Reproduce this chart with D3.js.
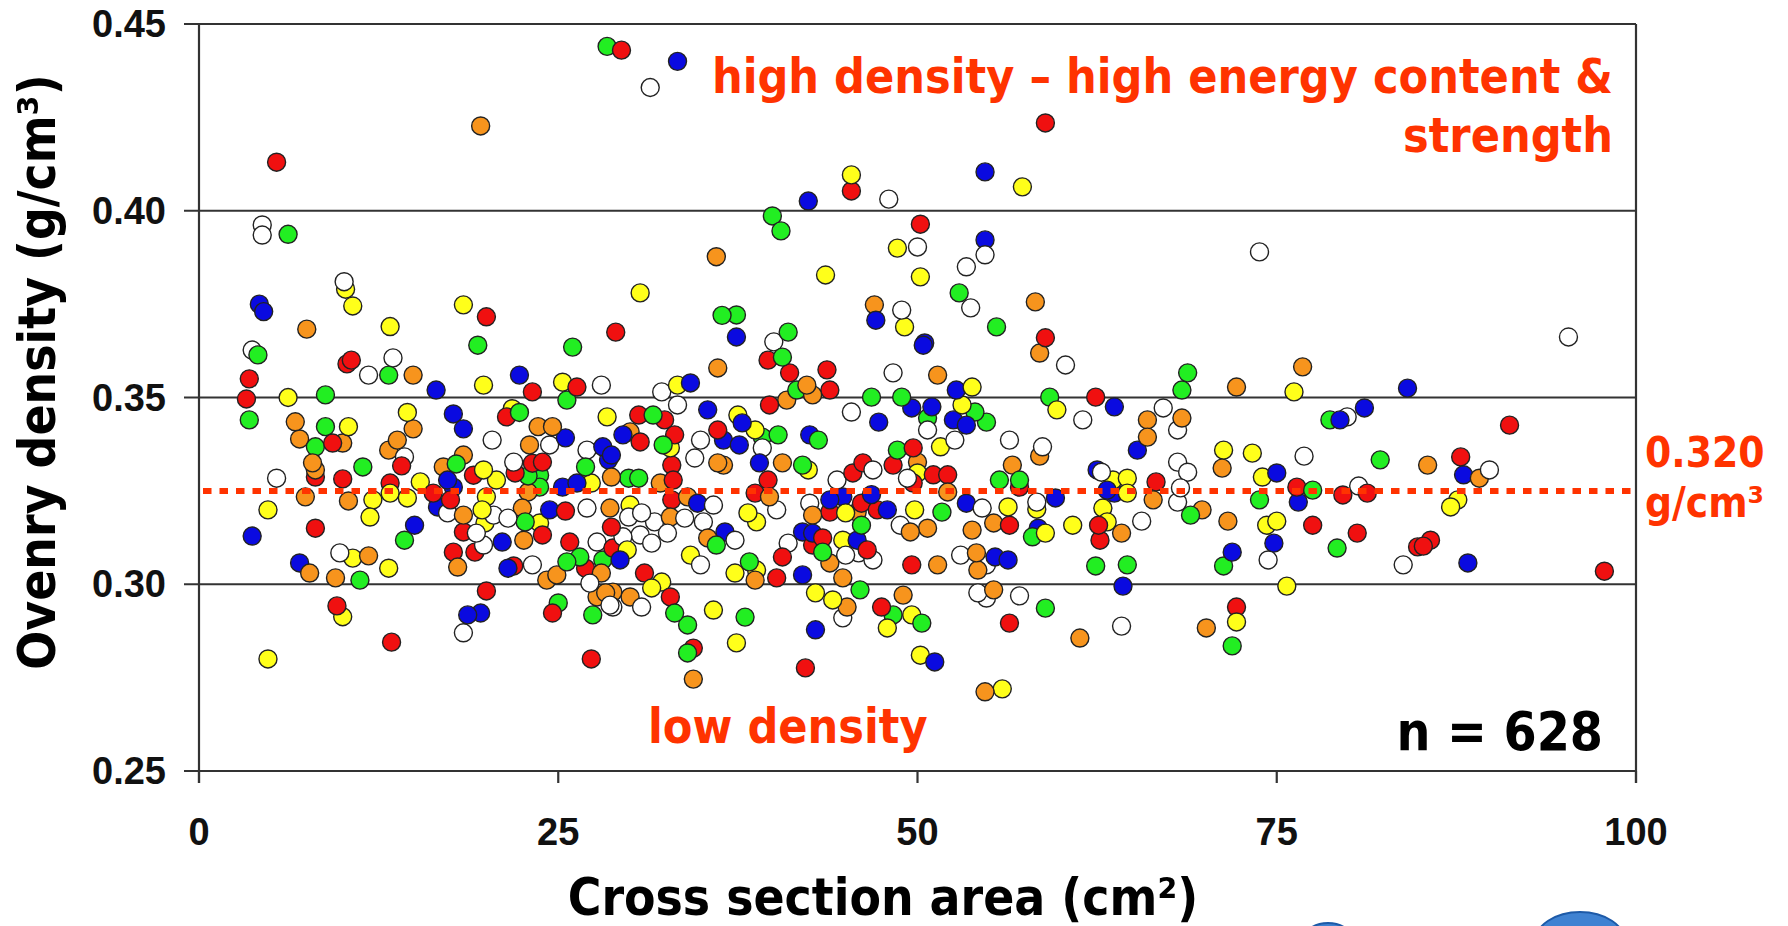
<!DOCTYPE html>
<html>
<head>
<meta charset="utf-8">
<style>
    body {
        margin: 0;
        background: #fff;
    }

    svg {
        display: block;
    }

    .tick-label {
        font-family: 'Liberation Sans', Arial, sans-serif;
        font-weight: bold;
        font-size: 38px;
        fill: #111;
    }

    .bold-text {
        font-family: 'DejaVu Sans Condensed', 'DejaVu Sans', sans-serif;
        font-weight: bold;
        font-stretch: condensed;
    }
</style>
</head>
<body>
<svg width="1788" height="926"></svg>

<script src="https://d3js.org/d3.v7.min.js"></script>
<script>
    // points: [cross section area cm2, ovendry density g/cm3]
    let redPts = [
        [29.4, 0.443], [5.4, 0.413], [58.9, 0.4235], [45.4, 0.4053], [50.2, 0.3964], [20.0, 0.3716], [29.0, 0.3675],
        [10.6, 0.360], [10.3, 0.359], [23.2, 0.3515], [26.3, 0.3528], [3.5, 0.355], [3.3, 0.3496], [21.4, 0.3448],
        [9.3, 0.3378], [14.1, 0.3317], [8.1, 0.3287], [10.0, 0.3282], [13.3, 0.3271], [19.1, 0.3292], [22.0, 0.3298],
        [23.9, 0.3327], [23.2, 0.3324], [16.3, 0.3244], [17.5, 0.3226], [25.5, 0.3196], [28.7, 0.3153], [8.1, 0.315],
        [18.4, 0.314], [23.9, 0.3132], [25.8, 0.3113], [17.7, 0.3086], [19.2, 0.3086], [26.9, 0.3043], [21.9, 0.3049],
        [20.0, 0.2982], [9.6, 0.2942], [13.4, 0.2845], [24.6, 0.2923], [27.3, 0.280],
        [39.6, 0.360], [41.1, 0.3566], [43.7, 0.3574], [43.9, 0.352], [39.7, 0.348], [30.6, 0.3453], [32.4, 0.344],
        [33.1, 0.340], [30.7, 0.3381], [36.1, 0.3413], [32.9, 0.3319], [39.6, 0.3279], [33.0, 0.3279], [32.9, 0.3226],
        [38.7, 0.3244], [28.8, 0.3097], [43.9, 0.3193], [46.1, 0.3217], [47.2, 0.3199], [42.7, 0.3105], [43.4, 0.3124],
        [40.6, 0.3073], [46.5, 0.3092], [40.2, 0.3017], [56.4, 0.3158], [49.7, 0.3271], [51.1, 0.3293], [52.1, 0.3293],
        [48.3, 0.3319], [46.2, 0.3325], [45.5, 0.3298], [49.7, 0.3365], [49.6, 0.3052], [47.5, 0.2939], [56.4, 0.2896],
        [42.2, 0.2776], [31.0, 0.303], [32.8, 0.2966], [34.4, 0.2829],
        [58.9, 0.366], [62.4, 0.3501], [57.1, 0.326], [66.6, 0.3274], [62.6, 0.3158], [62.7, 0.3118], [77.5, 0.3158],
        [80.6, 0.3137], [72.2, 0.2939], [84.8, 0.310], [76.4, 0.326], [79.6, 0.3239], [81.3, 0.3244],
        [91.2, 0.3426], [87.8, 0.3341], [85.2, 0.3102], [85.7, 0.3118], [97.8, 0.3035]
    ]

    let orangePts = [
        [19.6, 0.4227], [7.5, 0.3683], [36.0, 0.3877], [47.0, 0.3748],
        [14.9, 0.356], [6.7, 0.3435], [7.0, 0.3389], [10.0, 0.3378], [14.9, 0.3416], [13.8, 0.3386], [13.2, 0.3359],
        [23.6, 0.3422], [24.6, 0.3422], [23.0, 0.3373], [7.9, 0.3325], [8.1, 0.3306], [7.4, 0.3234], [10.4, 0.3223],
        [17.0, 0.3314], [18.4, 0.3346], [28.7, 0.3287], [22.9, 0.3247], [18.4, 0.3185], [22.5, 0.3204], [28.6, 0.3204],
        [22.6, 0.3118], [18.0, 0.3046], [24.2, 0.3011], [24.9, 0.3025], [28.0, 0.303], [7.7, 0.303], [11.8, 0.3076],
        [9.5, 0.3017], [27.7, 0.2966], [28.3, 0.2977],
        [36.1, 0.3579], [42.3, 0.3533], [42.7, 0.3507], [40.9, 0.3493], [51.4, 0.356], [30.0, 0.3408], [36.1, 0.3325],
        [36.5, 0.3319], [40.6, 0.3325], [32.1, 0.3271], [39.7, 0.3234], [34.0, 0.3234], [32.8, 0.318], [35.4, 0.3124],
        [45.8, 0.3193], [42.7, 0.3185], [43.9, 0.3057], [44.8, 0.3017], [38.7, 0.3011], [55.3, 0.3164], [53.8, 0.3145],
        [50.7, 0.315], [49.5, 0.314], [50.0, 0.3327], [52.1, 0.3247], [51.4, 0.3052], [54.1, 0.3084], [54.2, 0.3038],
        [45.1, 0.2939], [49.0, 0.2971], [55.3, 0.2985], [30.0, 0.2966], [28.8, 0.2979],
        [58.2, 0.3756], [58.5, 0.3619], [72.2, 0.3528], [76.8, 0.3582], [66.0, 0.344], [66.0, 0.3394], [68.4, 0.3445],
        [58.5, 0.3343], [71.2, 0.3311], [56.6, 0.3319], [66.4, 0.3226], [64.2, 0.3137], [69.8, 0.3199], [71.6, 0.3169],
        [61.3, 0.2856], [70.1, 0.2883], [85.5, 0.3319], [89.1, 0.3284], [34.4, 0.2746], [54.7, 0.2712]
    ]

    let yellowPts = [
        [10.2, 0.379], [10.7, 0.3745], [18.4, 0.3748], [13.3, 0.369], [30.7, 0.378],
        [45.4, 0.4096], [57.3, 0.4064], [48.6, 0.390], [43.6, 0.3828], [50.2, 0.3823], [49.1, 0.3689],
        [19.8, 0.3533], [25.3, 0.3541], [6.2, 0.350], [14.5, 0.346], [21.8, 0.347], [28.4, 0.3448], [10.4, 0.3422],
        [12.1, 0.3226], [11.9, 0.318], [13.3, 0.3244], [14.5, 0.3231], [15.4, 0.3274], [19.8, 0.3306], [20.7, 0.3279],
        [27.3, 0.3271], [20.0, 0.3234], [19.7, 0.3199], [19.9, 0.3164], [23.7, 0.3164], [4.8, 0.3199], [10.7, 0.307],
        [13.2, 0.3043], [10.0, 0.2913], [4.8, 0.280],
        [33.3, 0.3533], [53.8, 0.3528], [53.1, 0.348], [32.8, 0.3365], [37.5, 0.3453], [38.7, 0.3413], [42.4, 0.3306],
        [38.2, 0.3191], [38.8, 0.3167], [30.0, 0.3212], [29.8, 0.3092], [34.2, 0.3078], [45.0, 0.3191], [44.8, 0.3118],
        [37.3, 0.303], [38.8, 0.3038], [49.8, 0.3199], [50.0, 0.3298], [51.6, 0.3368], [42.9, 0.2977], [44.1, 0.2958],
        [47.9, 0.2883], [49.6, 0.2918], [50.2, 0.281], [32.2, 0.3006], [31.5, 0.299], [35.8, 0.2931], [37.4, 0.2843],
        [76.2, 0.3515], [59.7, 0.3467], [71.3, 0.3359], [73.3, 0.3351], [63.6, 0.3279], [64.6, 0.3284], [64.6, 0.3244],
        [58.3, 0.3201], [56.3, 0.3207], [58.9, 0.3137], [60.8, 0.3158], [62.9, 0.3204], [63.2, 0.3167], [74.3, 0.3158],
        [75.0, 0.3169], [75.7, 0.2995], [72.2, 0.2899], [74.0, 0.3287], [87.6, 0.3226], [87.1, 0.3207], [55.9, 0.272]
    ]

    let greenPts = [
        [28.4, 0.444], [6.2, 0.3937], [39.9, 0.3986], [40.5, 0.3946], [52.9, 0.378], [36.4, 0.372], [37.4, 0.3721],
        [55.5, 0.3689], [41.0, 0.3675],
        [4.1, 0.3614], [13.2, 0.356], [19.4, 0.364], [26.0, 0.3635], [25.6, 0.3493], [3.5, 0.344], [8.8, 0.3507],
        [22.3, 0.346], [8.8, 0.3422], [8.1, 0.3368], [11.4, 0.3314], [17.9, 0.3322], [22.9, 0.329], [23.7, 0.3292],
        [26.9, 0.3314], [23.7, 0.326], [22.7, 0.3167], [14.3, 0.3118], [25.6, 0.306], [26.5, 0.3073], [28.1, 0.3065],
        [11.2, 0.3011], [25.0, 0.295], [27.4, 0.2918],
        [40.6, 0.3608], [41.6, 0.352], [46.8, 0.3501], [48.9, 0.3501], [54.0, 0.3461], [54.8, 0.3434], [50.7, 0.3445],
        [43.1, 0.3386], [31.6, 0.3453], [32.3, 0.3373], [39.2, 0.3394], [40.3, 0.340], [42.0, 0.3319], [29.9, 0.3284],
        [30.6, 0.3284], [36.0, 0.3105], [46.1, 0.3158], [43.4, 0.3086], [38.3, 0.306], [51.7, 0.3193], [48.6, 0.3359],
        [55.7, 0.3279], [46.0, 0.2985], [48.3, 0.2918], [50.3, 0.2896], [33.1, 0.2923], [34.0, 0.2891], [38.0, 0.2912],
        [34.0, 0.2816],
        [68.8, 0.3566], [68.4, 0.352], [59.2, 0.3501], [78.7, 0.344], [82.2, 0.3333], [57.1, 0.3279], [58.0, 0.3127],
        [69.0, 0.3185], [79.2, 0.3097], [71.3, 0.3049], [62.4, 0.3049], [64.6, 0.3052], [58.9, 0.2936], [71.9, 0.2835],
        [77.5, 0.3252], [73.8, 0.3226]
    ]

    let bluePts = [
        [33.3, 0.440], [4.2, 0.375], [4.5, 0.373],
        [42.4, 0.4026], [54.7, 0.4104], [54.7, 0.3922], [47.1, 0.3707], [50.5, 0.3646], [37.4, 0.3662],
        [16.5, 0.352], [22.3, 0.356], [17.7, 0.3456], [18.4, 0.3416], [25.5, 0.3392], [28.1, 0.3368], [28.7, 0.3346],
        [28.5, 0.3333], [26.3, 0.3271], [25.3, 0.326], [17.3, 0.3279], [17.7, 0.326], [16.6, 0.3207], [24.4, 0.3199],
        [15.0, 0.3158], [3.7, 0.3129], [21.1, 0.3113], [21.5, 0.3043], [7.0, 0.3057], [18.7, 0.2918], [19.6, 0.2923],
        [50.4, 0.364], [49.6, 0.3472], [51.0, 0.3475], [52.7, 0.352], [52.5, 0.344], [53.4, 0.3426], [47.3, 0.3434],
        [42.5, 0.340], [34.2, 0.3539], [35.4, 0.3467], [29.5, 0.340], [37.8, 0.3432], [36.5, 0.3386], [37.6, 0.3373],
        [39.0, 0.3325], [34.7, 0.3217], [29.3, 0.3065], [36.6, 0.314], [43.9, 0.3226], [44.8, 0.3234], [46.8, 0.324],
        [47.9, 0.3199], [42.0, 0.314], [42.7, 0.3137], [45.8, 0.3118], [42.0, 0.3025], [53.4, 0.3217], [55.4, 0.3073],
        [56.3, 0.3065], [42.9, 0.2878], [51.2, 0.2792],
        [84.1, 0.3525], [63.7, 0.3475], [79.4, 0.344], [81.1, 0.3472], [65.3, 0.3359], [62.5, 0.3306], [63.2, 0.3252],
        [63.7, 0.3244], [59.6, 0.3231], [58.4, 0.315], [74.8, 0.311], [71.9, 0.3086], [64.3, 0.2995], [76.5, 0.322],
        [75.0, 0.3298], [88.0, 0.3293], [88.3, 0.3057]
    ]

    let whitePts = [
        [31.4, 0.433], [4.4, 0.3962], [4.4, 0.3935], [10.1, 0.381],
        [48.0, 0.4031], [50.0, 0.3903], [54.7, 0.3882], [53.4, 0.385], [53.7, 0.374], [48.9, 0.3734], [40.0, 0.3649],
        [3.7, 0.3627], [13.5, 0.3606], [11.8, 0.356], [28.0, 0.3533], [14.3, 0.3341], [20.4, 0.3386], [24.4, 0.3373],
        [27.0, 0.3359], [5.4, 0.3284], [21.9, 0.3327], [17.3, 0.3191], [20.5, 0.3185], [21.5, 0.3177], [27.0, 0.3204],
        [19.3, 0.3137], [19.8, 0.3105], [27.7, 0.3113], [23.2, 0.3052], [27.2, 0.3003], [9.8, 0.3084], [18.4, 0.287],
        [28.6, 0.2944],
        [48.3, 0.3566], [45.4, 0.3461], [50.7, 0.3413], [52.6, 0.3386], [32.2, 0.3515], [33.3, 0.348], [34.9, 0.3386],
        [34.5, 0.3338], [39.2, 0.3365], [40.2, 0.3199], [35.8, 0.3212], [33.8, 0.3177], [35.1, 0.3167], [31.7, 0.3167],
        [30.8, 0.3191], [29.9, 0.318], [29.5, 0.3127], [30.7, 0.3132], [31.5, 0.311], [32.6, 0.3137], [37.3, 0.3118],
        [34.9, 0.3052], [42.5, 0.3217], [41.0, 0.311], [45.0, 0.3078], [45.9, 0.3084], [46.9, 0.3065], [54.5, 0.3204],
        [48.8, 0.3158], [46.9, 0.3306], [44.4, 0.3279], [49.3, 0.3284], [53.0, 0.3078], [54.8, 0.3052], [44.8, 0.291],
        [54.2, 0.2977], [54.8, 0.2963], [28.8, 0.2939], [30.8, 0.2939],
        [73.8, 0.389], [60.3, 0.3587], [61.5, 0.344], [67.1, 0.3472], [68.1, 0.3413], [79.9, 0.3448], [56.4, 0.3386],
        [58.7, 0.3368], [76.9, 0.3343], [62.8, 0.330], [68.1, 0.3327], [68.8, 0.330], [68.3, 0.3258], [68.1, 0.322],
        [58.3, 0.322], [65.6, 0.3169], [74.4, 0.3065], [83.8, 0.3052], [57.1, 0.2969], [64.2, 0.2888], [80.7, 0.3263],
        [95.3, 0.3662], [89.8, 0.3306]
    ]

    let xTicks = [0, 25, 50, 75, 100]
    let yTicks = [0.25, 0.30, 0.35, 0.40, 0.45]
    let refDensity = 0.325  // dotted line as drawn in the picture
    let seriesColors = ["#f01010", "#f7941d", "#ffff1a", "#22ee22", "#0a0ae0", "#ffffff"]

    let svg = d3.select("svg")

    svg.append("rect")
        .attr("width", 1788)
        .attr("height", 926)
        .style("fill", "#fff")

    let x = d3.scaleLinear()
        .domain([0, 100])
        .range([199, 1636])

    let y = d3.scaleLinear()
        .domain([0.25, 0.45])
        .range([771, 24])

    // horizontal grid lines (they also form the y ticks and top/bottom frame)
    svg.selectAll(".grid")
        .data(yTicks)
        .join("line")
        .attr("x1", x(0) - 15)
        .attr("x2", x(100))
        .attr("y1", d => y(d))
        .attr("y2", d => y(d))
        .style("stroke", "#333")
        .style("stroke-width", 2.2)

    // left axis + right frame
    svg.selectAll(".vframe")
        .data([0, 100])
        .join("line")
        .attr("x1", d => x(d))
        .attr("x2", d => x(d))
        .attr("y1", y(0.45))
        .attr("y2", y(0.25) + 12)
        .style("stroke", "#333")
        .style("stroke-width", 2.2)

    // x ticks
    svg.selectAll(".xtick")
        .data(xTicks)
        .join("line")
        .attr("x1", d => x(d))
        .attr("x2", d => x(d))
        .attr("y1", y(0.25))
        .attr("y2", y(0.25) + 12)
        .style("stroke", "#333")
        .style("stroke-width", 2.2)

    svg.selectAll(".ylab")
        .data(yTicks)
        .join("text")
        .attr("class", "tick-label")
        .attr("x", x(0) - 33)
        .attr("y", d => y(d) + 13)
        .attr("text-anchor", "end")
        .text(d => d.toFixed(2))

    svg.selectAll(".xlab")
        .data(xTicks)
        .join("text")
        .attr("class", "tick-label")
        .attr("x", d => x(d))
        .attr("y", y(0.25) + 74)
        .attr("text-anchor", "middle")
        .text(d => d)

    // points
    let groups = [redPts, orangePts, yellowPts, greenPts, bluePts, whitePts]
    let allPts = []
    groups.forEach((g, i) => {
        g.forEach(p => allPts.push({ area: p[0], dens: p[1], fill: seriesColors[i] }))
    })
    // mix the draw order a little so no colour sits always on top
    allPts.sort((a, b) => (a.area * 7.3 % 1) - (b.area * 7.3 % 1))

    svg.append("g")
        .selectAll("circle")
        .data(allPts)
        .join("circle")
        .attr("cx", d => x(d.area))
        .attr("cy", d => y(d.dens))
        .attr("r", 9)
        .style("fill", d => d.fill)
        .style("stroke", "#222")
        .style("stroke-width", 1.4)

    // reference line
    svg.append("line")
        .attr("x1", x(0) + 4)
        .attr("x2", x(100))
        .attr("y1", y(refDensity))
        .attr("y2", y(refDensity))
        .style("stroke", "#ff3300")
        .style("stroke-width", 6)
        .style("stroke-dasharray", "8.5,8")

    // annotations
    let red = "#ff3300"
    svg.append("text")
        .attr("class", "bold-text")
        .attr("x", 1613)
        .attr("y", 93)
        .attr("text-anchor", "end")
        .style("font-size", "48px")
        .style("fill", red)
        .text("high density \u2013 high energy content &")

    svg.append("text")
        .attr("class", "bold-text")
        .attr("x", 1613)
        .attr("y", 152)
        .attr("text-anchor", "end")
        .style("font-size", "48px")
        .style("fill", red)
        .text("strength")

    svg.append("text")
        .attr("class", "bold-text")
        .attr("x", 648)
        .attr("y", 743)
        .style("font-size", "48px")
        .style("fill", red)
        .text("low density")

    svg.append("text")
        .attr("class", "bold-text")
        .attr("x", 1645)
        .attr("y", 467)
        .style("font-size", "42px")
        .style("fill", red)
        .text("0.320")

    svg.append("text")
        .attr("class", "bold-text")
        .attr("x", 1645)
        .attr("y", 517)
        .style("font-size", "42px")
        .style("fill", red)
        .text("g/cm\u00b3")

    svg.append("text")
        .attr("class", "bold-text")
        .attr("x", 1603)
        .attr("y", 750)
        .attr("text-anchor", "end")
        .style("font-size", "53px")
        .style("fill", "#000")
        .text("n = 628")

    // axis titles
    svg.append("text")
        .attr("class", "bold-text")
        .attr("x", 883)
        .attr("y", 915)
        .attr("text-anchor", "middle")
        .style("font-size", "51px")
        .style("fill", "#000")
        .text("Cross section area (cm\u00b2)")

    svg.append("text")
        .attr("class", "bold-text")
        .attr("transform", "translate(55,372) rotate(-90)")
        .attr("text-anchor", "middle")
        .style("font-size", "51px")
        .style("fill", "#000")
        .text("Ovenry density (g/cm\u00b3)")

    // edge of a photo that peeks in under the chart, bottom right
    svg.selectAll(".photo-edge")
        .data([[1328, 936, 22, 13], [1580, 942, 45, 30]])
        .join("ellipse")
        .attr("cx", d => d[0])
        .attr("cy", d => d[1])
        .attr("rx", d => d[2])
        .attr("ry", d => d[3])
        .style("fill", "#3f82d2")
        .style("stroke", "#1d5aa8")
        .style("stroke-width", 2)
</script>
</body>
</html>
